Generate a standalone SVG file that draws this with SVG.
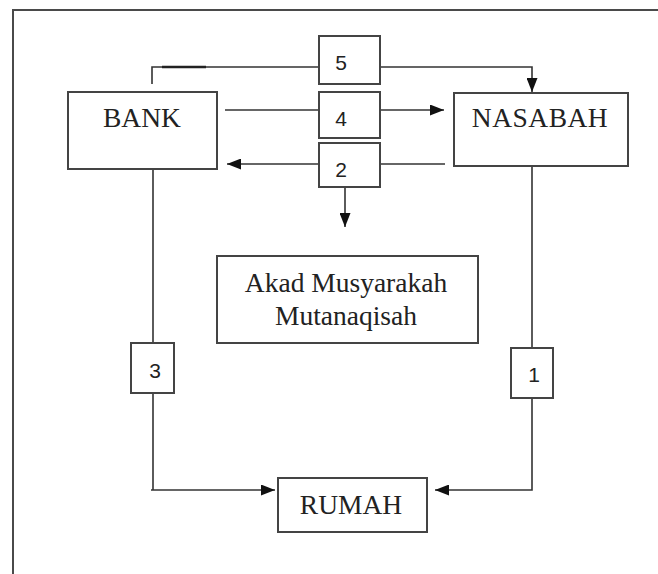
<svg xmlns="http://www.w3.org/2000/svg" width="658" height="574" viewBox="0 0 658 574">
<style>
.frame{fill:none;stroke:#4a4a4a;stroke-width:2}
.box{fill:#fff;stroke:#444;stroke-width:2}
.lbl{fill:#fff;stroke:#444;stroke-width:2}
.c{fill:none;stroke:#333;stroke-width:1.6}
.t{font-family:"Liberation Serif","Times New Roman",serif;font-size:27.5px;fill:#222;text-anchor:middle}
.n{font-family:"Liberation Sans",Arial,sans-serif;font-size:21px;fill:#222;text-anchor:middle}
</style>
<defs>
<marker id="ah" viewBox="0 0 14 11" refX="14" refY="5.5" markerWidth="14" markerHeight="11" markerUnits="userSpaceOnUse" orient="auto">
<path d="M0,0 L14,5.5 L0,11 z" fill="#111"/>
</marker>
</defs>
<rect width="658" height="574" fill="#fff"/>
<path class="frame" d="M13,574 V10 H658"/>
<g id="connectors">
<path class="c" d="M152,84 V67 H319"/>
<line x1="162" y1="67" x2="206" y2="67" stroke="#222" stroke-width="2.4"/>
<path class="c" d="M380,67 H532 V92" marker-end="url(#ah)"/>
<path class="c" d="M225,110 H319"/>
<path class="c" d="M380,110 H444" marker-end="url(#ah)"/>
<path class="c" d="M445,164 H380"/>
<path class="c" d="M319,164 H227" marker-end="url(#ah)"/>
<path class="c" d="M345,187 V227" marker-end="url(#ah)"/>
<path class="c" d="M153,169 V343"/>
<path class="c" d="M153,393 V490"/>
<path class="c" d="M151,490 H275" marker-end="url(#ah)"/>
<path class="c" d="M532,166 V348" stroke-width="2.2"/>
<path class="c" d="M532,398 V490 H435" stroke-width="2.2" marker-end="url(#ah)"/>
</g>
<g id="bank"><rect class="box" x="68" y="92" width="149" height="77"/><text class="t" x="142" y="127">BANK</text></g>
<g id="nasabah"><rect class="box" x="454" y="93" width="174" height="73"/><text class="t" x="540" y="127" letter-spacing="0.5">NASABAH</text></g>
<g id="akad"><rect class="box" x="217" y="256" width="261" height="87"/><text class="t" x="346" y="292">Akad Musyarakah</text><text class="t" x="346" y="325">Mutanaqisah</text></g>
<g id="rumah"><rect class="box" x="278" y="478" width="149" height="54"/><text class="t" x="351" y="514">RUMAH</text></g>
<g id="n5"><rect class="lbl" x="319" y="36" width="61" height="48"/><text class="n" x="341" y="70">5</text></g>
<g id="n4"><rect class="lbl" x="319" y="92" width="61" height="46"/><text class="n" x="341" y="126">4</text></g>
<g id="n2"><rect class="lbl" x="319" y="143" width="61" height="44"/><text class="n" x="341" y="177">2</text></g>
<g id="n3"><rect class="lbl" x="131" y="343" width="43" height="50"/><text class="n" x="155" y="378">3</text></g>
<g id="n1"><rect class="lbl" x="511" y="348" width="42" height="50"/><text class="n" x="534" y="382">1</text></g>
</svg>
